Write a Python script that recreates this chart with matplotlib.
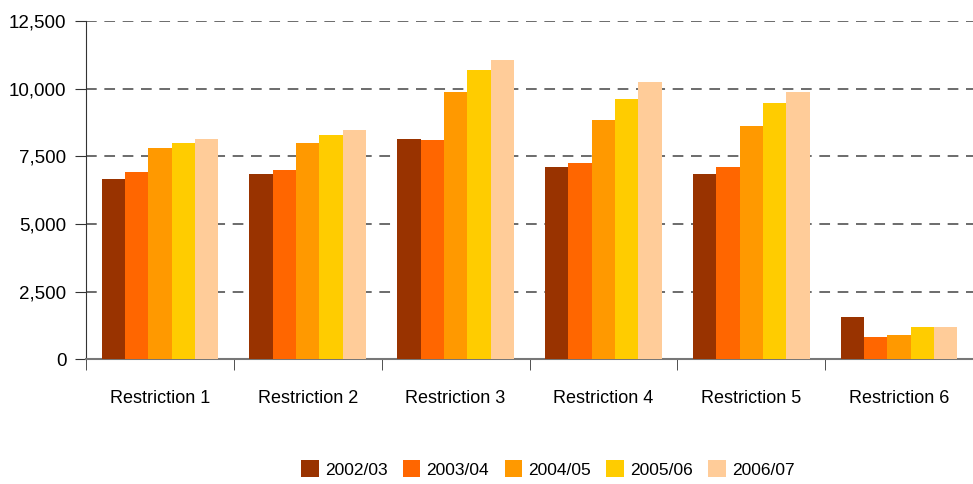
import numpy as np
import matplotlib.pyplot as plt
from matplotlib.ticker import FuncFormatter

CATEGORIES = ["Restriction 1", "Restriction 2", "Restriction 3",
              "Restriction 4", "Restriction 5", "Restriction 6"]
YEARS = ["2002/03", "2003/04", "2004/05", "2005/06", "2006/07"]

V_2002 = [6680, 6850, 8150, 7120, 6850, 1550]
V_2003 = [6940, 6990, 8120, 7270, 7100, 810]
V_2004 = [7820, 8000, 9890, 8860, 8620, 890]
V_2005 = [8000, 8300, 10700, 9630, 9470, 1180]
V_2006 = [8150, 8480, 11070, 10260, 9900, 1180]

COLORS = ["#993300", "#ff6600", "#ff9900", "#ffcc00", "#ffcc99"]

plt.rcParams["font.family"] = ["Liberation Sans Narrow", "Liberation Sans", "DejaVu Sans"]

fig = plt.figure(figsize=(9.73, 4.84), dpi=100)
ax = fig.add_axes([0.0884, 0.258, 0.9116, 0.698])

series = [V_2002, V_2003, V_2004, V_2005, V_2006]
x = np.arange(len(CATEGORIES))
width = 0.158
for i, (vals, year) in enumerate(zip(series, YEARS)):
    ax.bar(x + (i - 2) * width, vals, width=width, color=COLORS[i],
           label=year, zorder=3)

ax.set_xlim(-0.5, len(CATEGORIES) - 0.5)
ax.set_ylim(0, 12500)
ax.set_yticks(np.arange(0, 12501, 2500))
ax.yaxis.set_major_formatter(FuncFormatter(lambda v, p: f"{int(v):,}"))

ax.set_xticks(x)
ax.set_xticklabels(CATEGORIES, fontsize=13)
ax.set_xticks(np.arange(-0.5, len(CATEGORIES), 1), minor=True)
ax.tick_params(axis="x", which="major", length=0, pad=22)
ax.tick_params(axis="x", which="minor", length=8, direction="out", color="#333333")
ax.tick_params(axis="y", length=8, direction="out", labelsize=13.5, pad=6, color="#333333")

for v in range(2500, 12501, 2500):
    ax.axhline(v, color="#444444", linestyle=(0, (7, 5)), linewidth=1.1, zorder=1)

for s in ["top", "right"]:
    ax.spines[s].set_visible(False)
ax.spines["left"].set_color("#333333")
ax.spines["bottom"].set_color("#777777")
ax.spines["bottom"].set_linewidth(1.5)

fig.legend(loc="center", bbox_to_anchor=(0.563, 0.031), ncol=5, frameon=False,
           fontsize=12.5, handlelength=1.0, handleheight=1.1, handletextpad=0.35,
           columnspacing=0.9)

fig.savefig("out.png", dpi=100)
